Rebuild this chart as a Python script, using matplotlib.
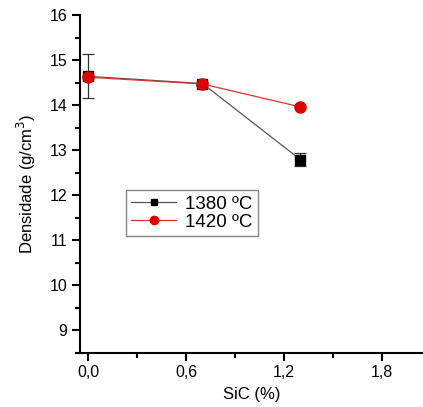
import matplotlib
matplotlib.use("Agg")
import matplotlib.pyplot as plt
from matplotlib.lines import Line2D
from matplotlib.ticker import MultipleLocator, FuncFormatter

plt.rcParams['font.family'] = ['Liberation Sans', 'DejaVu Sans']

sic = [0.0, 0.7, 1.3]
dens_1380 = [14.64, 14.48, 12.79]
err_1380 = [0.49, 0.03, 0.14]
dens_1420 = [14.62, 14.47, 13.96]
labels = ["1380 ºC", "1420 ºC"]

fig = plt.figure(figsize=(4.23, 4.07), dpi=100)
ax = fig.add_axes([0.189, 0.133, 0.811, 0.830])

ax.errorbar(sic, dens_1380, yerr=err_1380, color='#555555', lw=0.9,
            marker='s', ms=7, mfc='black', mec='black', ecolor='#333333',
            elinewidth=0.9, capsize=4, capthick=0.9, zorder=3)
ax.plot(sic, dens_1420, color='#e03030', lw=0.9, marker='o', ms=8,
        mfc='#e00000', mec='#e00000', zorder=4)

ax.set_xlim(-0.05, 2.05)
ax.set_ylim(8.5, 16)
ax.xaxis.set_major_locator(MultipleLocator(0.6))
ax.xaxis.set_minor_locator(MultipleLocator(0.3))
ax.yaxis.set_major_locator(MultipleLocator(1))
ax.yaxis.set_minor_locator(MultipleLocator(0.5))
ax.xaxis.set_major_formatter(FuncFormatter(lambda v, p: f"{v:.1f}".replace('.', ',')))
ax.yaxis.set_major_formatter(FuncFormatter(lambda v, p: f"{v:.0f}"))

for s in ['top', 'right']:
    ax.spines[s].set_visible(False)
for s in ['left', 'bottom']:
    ax.spines[s].set_linewidth(1.5)

ax.tick_params(which='major', direction='out', length=6, width=1.5, labelsize=11.5,
               colors='black', pad=3)
ax.tick_params(which='minor', direction='out', length=3.5, width=1.5)

ax.set_xlabel("SiC (%)", fontsize=12, labelpad=5)
ax.set_ylabel("Densidade (g/cm$^3$)", fontsize=12, labelpad=8)

handles = [
    Line2D([], [], color='#555555', lw=0.9, marker='s', ms=5, mfc='black', mec='black'),
    Line2D([], [], color='#e03030', lw=0.9, marker='o', ms=6, mfc='#e00000', mec='#e00000'),
]
leg = ax.legend(handles, labels, loc='upper left', bbox_to_anchor=(0.133, 0.482),
                fontsize=13.5, frameon=True, fancybox=False, edgecolor='#666666',
                handlelength=2.4, handletextpad=0.45, borderpad=0.3, labelspacing=0.05,
                borderaxespad=0)
leg.get_frame().set_linewidth(1.0)

fig.savefig("out.png", dpi=100)
